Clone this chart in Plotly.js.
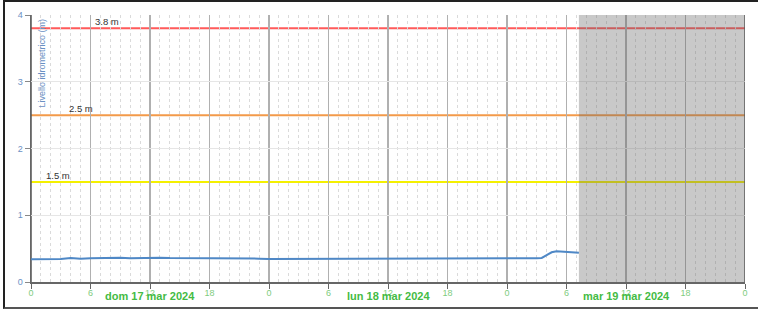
<!DOCTYPE html>
<html><head><meta charset="utf-8">
<script src="https://cdn.plot.ly/plotly-3.0.1.min.js"></script>
<style>
html,body{margin:0;padding:0;background:#fff;}
#chart{width:758px;height:309px;position:absolute;left:0;top:0;}
#frame{position:absolute;left:3px;top:0;width:760px;height:305px;border-top:2px solid #222;border-left:2px solid #222;border-bottom:2px solid #555;pointer-events:none;}
</style></head>
<body>
<div id="chart"></div>
<div id="frame"></div>
<script>
// ---- data ----
const times = [
 "2024-03-17 00:00","2024-03-17 01:00","2024-03-17 02:00","2024-03-17 03:00","2024-03-17 04:00","2024-03-17 05:00",
 "2024-03-17 06:00","2024-03-17 07:00","2024-03-17 08:00","2024-03-17 09:00","2024-03-17 10:00","2024-03-17 11:00",
 "2024-03-17 12:00","2024-03-17 13:00","2024-03-17 14:00","2024-03-17 15:00","2024-03-17 16:00","2024-03-17 17:00",
 "2024-03-17 18:00","2024-03-17 19:00","2024-03-17 20:00","2024-03-17 21:00","2024-03-17 22:00","2024-03-17 23:00",
 "2024-03-18 00:00","2024-03-18 01:00","2024-03-18 02:00","2024-03-18 03:00","2024-03-18 04:00","2024-03-18 05:00",
 "2024-03-18 06:00","2024-03-18 07:00","2024-03-18 08:00","2024-03-18 09:00","2024-03-18 10:00","2024-03-18 11:00",
 "2024-03-18 12:00","2024-03-18 13:00","2024-03-18 14:00","2024-03-18 15:00","2024-03-18 16:00","2024-03-18 17:00",
 "2024-03-18 18:00","2024-03-18 19:00","2024-03-18 20:00","2024-03-18 21:00","2024-03-18 22:00","2024-03-18 23:00",
 "2024-03-19 00:00","2024-03-19 01:00","2024-03-19 02:00","2024-03-19 03:00","2024-03-19 03:30","2024-03-19 04:00",
 "2024-03-19 04:30","2024-03-19 05:00","2024-03-19 05:30","2024-03-19 06:00","2024-03-19 06:30","2024-03-19 07:00",
 "2024-03-19 07:15"
];
const levels = [
 0.34,0.34,0.34,0.345,0.36,0.35,
 0.355,0.36,0.365,0.365,0.355,0.36,
 0.36,0.365,0.36,0.36,0.36,0.36,
 0.36,0.36,0.355,0.355,0.35,0.35,
 0.345,0.345,0.35,0.35,0.355,0.35,
 0.35,0.355,0.355,0.355,0.35,0.355,
 0.35,0.355,0.355,0.35,0.35,0.35,
 0.35,0.35,0.355,0.355,0.355,0.355,
 0.355,0.355,0.355,0.355,0.36,0.40,
 0.445,0.46,0.455,0.45,0.45,0.445,
 0.44
];
const thresholds = [3.8, 2.5, 1.5];
const thresholdLabels = ["3.8 m", "2.5 m", "1.5 m"];
const thresholdColors = ["#ff5a5a", "#f39a4a", "#f4f000"];
const thresholdLabelX = ["2024-03-17 06:15", "2024-03-17 03:40", "2024-03-17 01:20"];
const dayStarts = ["2024-03-17 00:00","2024-03-18 00:00","2024-03-19 00:00","2024-03-20 00:00"];
const dayLabels = ["dom 17 mar 2024","lun 18 mar 2024","mar 19 mar 2024"];
const dayMids = ["2024-03-17 12:00","2024-03-18 12:00","2024-03-19 12:00"];
const forecastStart = "2024-03-19 07:15";
const xStart = "2024-03-17 00:00", xEnd = "2024-03-20 00:00";

const shapes = [];
thresholds.forEach((t,i)=>shapes.push({type:'line',xref:'paper',x0:0,x1:1,yref:'y',y0:t,y1:t,line:{color:thresholdColors[i],width:2},layer:'below'}));
dayStarts.forEach(d=>shapes.push({type:'line',xref:'x',x0:d,x1:d,yref:'paper',y0:0,y1:1,line:{color:'#555',width:1.5},layer:'below'}));
shapes.push({type:'rect',xref:'x',x0:forecastStart,x1:xEnd,yref:'paper',y0:0,y1:1,fillcolor:'rgba(100,100,100,0.35)',line:{width:0},layer:'above'});

const annotations = [];
thresholds.forEach((t,i)=>annotations.push({x:thresholdLabelX[i],y:t,xref:'x',yref:'y',text:thresholdLabels[i],showarrow:false,xanchor:'left',yanchor:'bottom',yshift:-1,font:{family:'Liberation Sans, Arial',size:9.5,color:'#333'}}));
dayLabels.forEach((l,i)=>annotations.push({x:dayMids[i],y:0,xref:'x',yref:'paper',yanchor:'top',yshift:-6,text:'<b>'+l+'</b>',showarrow:false,font:{family:'Liberation Sans, Arial',size:11,color:'#44bb44'}}));
annotations.push({x:0,y:1,xref:'paper',yref:'paper',xanchor:'left',yanchor:'top',xshift:3,yshift:-2,textangle:-90,text:'Livello idrometrico (m)',showarrow:false,font:{family:'Liberation Sans, Arial',size:9,color:'#6a90c4'}});

Plotly.newPlot('chart',[{
  x:times,y:levels,type:'scatter',mode:'lines',line:{color:'#4f88c6',width:2},hoverinfo:'skip'
}],{
  width:758,height:309,
  margin:{l:31,r:13,t:15,b:27},
  paper_bgcolor:'#fff',plot_bgcolor:'#fff',
  showlegend:false,
  font:{family:'Liberation Sans, Arial'},
  xaxis:{type:'date',range:[xStart,xEnd],dtick:6*3600000,tick0:xStart,tickformat:'%-H',
    showgrid:true,gridcolor:'#b0b0b0',gridwidth:1.5,
    minor:{dtick:3600000,showgrid:true,gridcolor:'#dadada',griddash:'dot',gridwidth:1},
    showline:true,linecolor:'#666',linewidth:1.5,ticks:'outside',ticklen:5,tickcolor:'#666',
    ticklabelstandoff:-3,
    tickfont:{size:9,color:'#80cc80'},zeroline:false,mirror:false},
  yaxis:{range:[0,4],dtick:1,showgrid:true,gridcolor:'#e6e6e6',gridwidth:1,
    showline:true,linecolor:'#666',linewidth:1.5,ticks:'outside',ticklen:5,tickcolor:'#888',
    tickfont:{size:9,color:'#6a90c4'},zeroline:false},
  shapes:shapes,annotations:annotations
},{staticPlot:true});
</script>
</body></html>
